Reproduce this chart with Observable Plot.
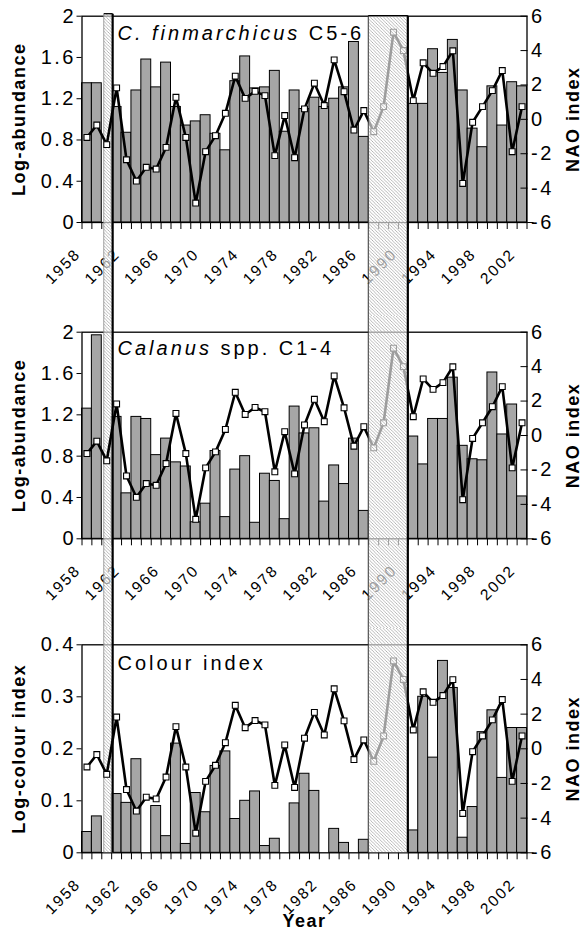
<!DOCTYPE html>
<html><head><meta charset="utf-8">
<script src="https://cdn.jsdelivr.net/npm/d3@7"></script>
<script src="https://cdn.jsdelivr.net/npm/@observablehq/plot@0.6"></script>
<style>
body{margin:0;background:#fff;}
#chart{position:relative;width:582px;height:943px;overflow:hidden;background:#fff;}
#chart svg{position:absolute;left:0;}
</style></head><body><div id="chart"></div>
<script>
// ---------- data ----------
const years = [1958,1959,1960,1961,1962,1963,1964,1965,1966,1967,
  1968,1969,1970,1971,1972,1973,1974,1975,1976,1977,
  1978,1979,1980,1981,1982,1983,1984,1985,1986,1987,
  1988,1989,1990,1991,1992,1993,1994,1995,1996,1997,
  1998,1999,2000,2001,2002];
const nao = [-1.05,-0.33,-1.47,1.83,-2.35,-3.59,-2.79,-2.89,-1.63,1.28,
  -1.05,-4.87,-1.88,-0.95,0.35,2.51,1.22,1.63,1.38,-2.11,
  0.22,-2.23,0.61,2.10,0.80,3.46,1.61,-0.62,0.51,-0.72,
  0.74,5.07,4.00,1.09,3.29,2.68,3.07,3.99,-3.73,-0.17,
  0.74,1.67,2.84,-1.88,0.74];
const finC56 = [1.35,1.35,null,1.12,0.87,1.28,1.58,1.31,1.55,1.12,
  0.94,0.98,1.04,0.86,0.70,1.37,1.61,1.30,1.31,1.47,
  0.88,1.28,1.10,1.21,1.12,1.20,1.31,1.75,0.83,null,
  null,null,null,1.15,1.15,1.68,1.45,1.77,1.28,0.91,
  0.73,1.32,0.94,1.36,1.32];
const calC14 = [1.26,1.97,null,1.18,0.44,1.18,1.16,0.81,0.97,0.74,
  0.70,0.16,0.34,0.85,0.21,0.67,0.80,0.155,0.63,0.56,
  0.19,1.28,1.02,1.07,0.36,0.71,0.53,0.97,0.27,null,
  null,null,null,0.99,0.72,1.16,1.16,1.56,0.90,0.77,
  0.76,1.61,1.01,1.30,0.41];
const colourIdx = [0.040,0.070,null,0.113,0.096,0.180,null,0.090,0.032,0.210,
  0.017,0.115,0.078,0.167,0.195,0.065,0.100,0.118,0.013,0.027,
  null,0.095,0.152,0.119,null,0.046,0.019,null,0.025,null,
  null,null,null,0.043,0.300,0.183,0.369,0.317,0.029,0.088,
  0.232,0.274,0.144,0.240,0.240];
const abundTicks = [0,0.4,0.8,1.2,1.6,2];
const colourTicks = [0,0.1,0.2,0.3,0.4];
const naoTicks = [-6,-4,-2,0,2,4,6];
const yearLabels = [1958,1962,1966,1970,1974,1978,1982,1986,1990,1994,1998,2002];
const gapStart = [1959.75, 1986.5];
const gapEnd = [1960.65, 1990.5];

// ---------- layout ----------
const W = 582;
const FONT = "'Liberation Sans', Arial, Helvetica, sans-serif";
const xDomain = [years[0] - 0.5, years[years.length - 1] + 0.5];
const boundaries = years.map(y => y - 0.5).concat([years[years.length - 1] + 0.5]);
const naoRows = years.map((y, i) => ({year: y, nao: nao[i]}));

const panels = [
  {values: finC56, top: 2, ticks: abundTicks, ylabel: "Log-abundance",
   title: "C. finmarchicus C5-6", italic: "C. finmarchicus", rest: " C5-6",
   svgTop: 0, height: 316, mt: 15.7, mb: 94, titleDy: 9.3, mode: "first"},
  {values: calC14, top: 2, ticks: abundTicks, ylabel: "Log-abundance",
   title: "Calanus spp. C1-4", italic: "Calanus", rest: " spp. C1-4",
   svgTop: 316, height: 312, mt: 15.7, mb: 89.7, titleDy: 8.3, mode: "middle"},
  {values: colourIdx, top: 0.4, ticks: colourTicks, ylabel: "Log-colour index",
   title: "Colour index", italic: null, rest: null,
   svgTop: 628, height: 315, mt: 16.3, mb: 90.7, titleDy: 10.7, mode: "last"}
];

function fmtLeft(d) { return String(+d.toFixed(2)); }

function stripMark(which, mode, top, pid) {
  return (index, scales, values, dims) => {
    const x = scales.x, y = scales.y;
    const g = d3.create("svg:g");
    const s = 3.3;
    const id = "hatch-" + pid;
    const pat = g.append("defs").append("pattern").attr("id", id)
      .attr("patternUnits", "userSpaceOnUse").attr("width", s).attr("height", s);
    pat.append("rect").attr("width", s).attr("height", s).attr("fill", "#fff").attr("fill-opacity", 0.62);
    pat.append("path").attr("d", `M0,0L${s},${s}M-1,${s-1}L1,${s+1}M${s-1},-1L${s+1},1`)
      .attr("stroke", "#9a9a9a").attr("stroke-width", 0.7).attr("fill", "none");
    for (const i of which) {
      const thin = gapEnd[i] - gapStart[i] < 2;
      const x0 = x(gapStart[i]), x1 = x(gapEnd[i]);
      const y0 = mode === "first" ? y(top) - (thin ? 2 : 0) : 0;
      const y1 = mode === "last" ? y(0) : dims.height;
      g.append("rect").attr("x", x0).attr("y", y0).attr("width", x1 - x0).attr("height", y1 - y0)
        .attr("fill", `url(#${id})`);
      g.append("line").attr("x1", x0).attr("x2", x0).attr("y1", y0).attr("y2", y1)
        .attr("stroke", thin ? "#8a8a8a" : "#333").attr("stroke-width", thin ? 0.8 : 1);
      g.append("line").attr("x1", x1).attr("x2", x1).attr("y1", y0).attr("y2", y1)
        .attr("stroke", "#000").attr("stroke-width", 2.2);
      if (mode === "first") {
        g.append("line").attr("x1", x0).attr("x2", x1).attr("y1", y0).attr("y2", y0)
          .attr("stroke", "#000").attr("stroke-width", 1.3);
      }
    }
    return g.node();
  };
}

const root = document.getElementById("chart");

panels.forEach((p, k) => {
  const toLeft = d3.scaleLinear().domain([-6, 6]).range([0, p.top]);
  const bars = years.map((y, i) => ({year: y, value: p.values[i]})).filter(d => d.value != null);
  const marks = [
    Plot.rectY(bars, {x1: d => d.year - 0.5, x2: d => d.year + 0.5, y1: 0, y2: "value",
      fill: "#a6a6a6", stroke: "#000", strokeWidth: 1}),
    Plot.frame({stroke: "#000", strokeWidth: 1.3}),
    Plot.axisY(p.ticks, {anchor: "left", tickSize: 5, tickPadding: 1, tickFormat: fmtLeft,
      fontSize: 20, label: null}),
    Plot.axisY(naoTicks.map(v => toLeft(v)), {anchor: "right", tickSize: -7, tickPadding: 11,
      tickFormat: v => String(Math.round(toLeft.invert(v))), fontSize: 20, label: null}),
    Plot.axisY([toLeft(naoTicks[0])], {anchor: "right", tickSize: 6, tickFormat: () => "", label: null}),
    Plot.axisX(boundaries, {anchor: "bottom", tickSize: 7, tickFormat: () => "", label: null}),
    Plot.text(yearLabels, {x: d => d, text: d => String(d), frameAnchor: "bottom",
      dx: -5.5, dy: 32.5, rotate: -45, textAnchor: "end", lineAnchor: "bottom", fontSize: 15.5}),
    stripMark([0], p.mode, p.top, `p${k}a`),
    Plot.line(naoRows, {x: "year", y: d => toLeft(d.nao), stroke: "#000", strokeWidth: 2.6}),
    Plot.dot(naoRows, {x: "year", y: d => toLeft(d.nao), symbol: "square", r: 3.3,
      fill: "#fff", stroke: "#000", strokeWidth: 1.1}),
    stripMark([1], p.mode, p.top, `p${k}b`),
    Plot.text([p.title], {frameAnchor: "top-left", dx: 35.5, dy: p.titleDy, textAnchor: "start",
      lineAnchor: "top", fontSize: 20}),
    Plot.text([p.ylabel], {frameAnchor: "left", dx: -62.5, rotate: -90, textAnchor: "middle",
      lineAnchor: "middle", fontWeight: "bold", fontSize: 18}),
    Plot.text(["NAO index"], {frameAnchor: "right", dx: 46.5, rotate: -90, textAnchor: "middle",
      lineAnchor: "middle", fontWeight: "bold", fontSize: 18})
  ];
  if (p.mode === "last") {
    marks.push(Plot.text(["Year"], {frameAnchor: "bottom", dy: 74, lineAnchor: "bottom",
      textAnchor: "middle", fontWeight: "bold", fontSize: 18}));
  }
  const svg = Plot.plot({
    width: W, height: p.height,
    marginTop: p.mt, marginBottom: p.mb, marginLeft: 81.5, marginRight: 55.5,
    x: {type: "linear", domain: xDomain},
    y: {type: "linear", domain: [0, p.top]},
    style: {fontFamily: FONT, fontSize: "20px", letterSpacing: "2.5px", background: "transparent", overflow: "visible", color: "#000"},
    marks
  });
  svg.style.top = p.svgTop + "px";
  const sel = d3.select(svg);
  sel.selectAll("text").each(function() {
    const t = this.textContent;
    if (t === p.ylabel || t === "NAO index" || t === "Year") d3.select(this).style("letter-spacing", "1.5px");
    if (yearLabels.map(String).includes(t)) d3.select(this).style("letter-spacing", "2px");
    if (t === p.title) {
      d3.select(this).style("letter-spacing", "3px");
      if (p.italic) {
        const el = d3.select(this);
        el.text(null);
        el.append("tspan").attr("font-style", "italic").text(p.italic);
        el.append("tspan").text(p.rest);
      }
    }
  });
  root.appendChild(svg);
});
</script></body></html>
